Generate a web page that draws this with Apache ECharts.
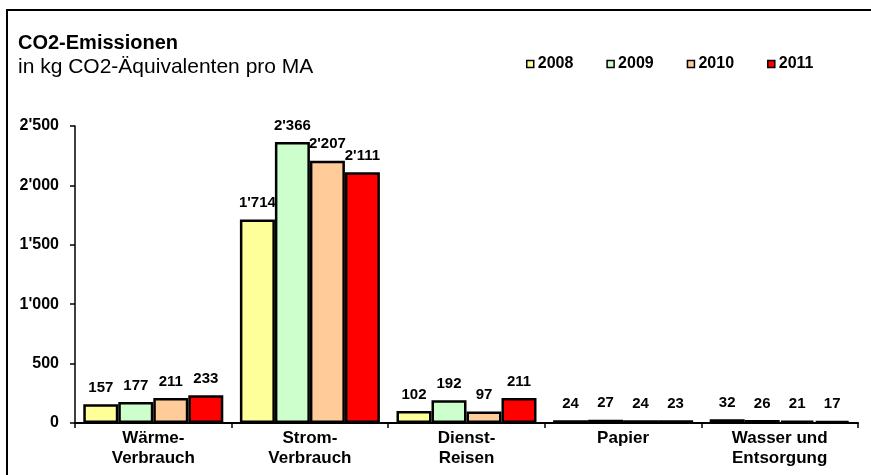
<!DOCTYPE html>
<html>
<head>
<meta charset="utf-8">
<script src="https://cdn.jsdelivr.net/npm/echarts@6/dist/echarts.min.js"></script>
<style>
  html, body { margin: 0; padding: 0; background: #fff; }
  #chart { width: 871px; height: 475px; }
</style>
</head>
<body>
<div id="chart"></div>
<script>
// CO2 emissions per employee, by source and year
const categories = ['Wärme-\nVerbrauch', 'Strom-\nVerbrauch', 'Dienst-\nReisen', 'Papier', 'Wasser und\nEntsorgung'];
const years = ['2008', '2009', '2010', '2011'];
const values2008 = [157, 1714, 102, 24, 32];
const values2009 = [177, 2366, 192, 27, 26];
const values2010 = [211, 2207, 97, 24, 21];
const values2011 = [233, 2111, 211, 23, 17];
const yTicks = [0, 500, 1000, 1500, 2000, 2500];

const seriesValues = [values2008, values2009, values2010, values2011];
const colors = ['#FFFF99', '#CCFFCC', '#FFCC99', '#FF0000'];
const FONT = 'Arial, "Liberation Sans", Helvetica, sans-serif';

// Swiss thousands separator: 2'366
function swiss(n) {
  return String(n).replace(/\B(?=(\d{3})+(?!\d))/g, "'");
}

const chart = echarts.init(document.getElementById('chart'), null, { renderer: 'canvas' });

chart.setOption({
  animation: false,
  backgroundColor: '#ffffff',
  textStyle: { fontFamily: FONT, color: '#000' },
  graphic: [{
    type: 'rect',
    shape: { x: 7, y: 10, width: 900, height: 500 },
    style: { fill: 'none', stroke: '#000', lineWidth: 2 },
    silent: true
  }],
  title: [{
    text: 'CO2-Emissionen',
    left: 13, top: 28,
    textStyle: { fontFamily: FONT, fontSize: 20, fontWeight: 'bold', color: '#000' }
  }, {
    text: 'in kg CO2-Äquivalenten pro MA',
    left: 13, top: 52,
    textStyle: { fontFamily: FONT, fontSize: 21, fontWeight: 'normal', color: '#000' }
  }],
  legend: {
    data: years,
    left: 521, top: 51,
    icon: 'rect',
    itemWidth: 7, itemHeight: 7,
    itemGap: 33,
    itemStyle: { borderColor: '#000', borderWidth: 1.5 },
    textStyle: { fontFamily: FONT, fontSize: 16, fontWeight: 'bold', color: '#000', padding: [0, 0, 0, -1] }
  },
  grid: { left: 75, right: 13, top: 126, bottom: 52, containLabel: false },
  xAxis: {
    type: 'category',
    data: categories,
    axisLine: { show: true, lineStyle: { color: '#000', width: 2 } },
    axisTick: { show: true, inside: false, length: 5, alignWithLabel: false, lineStyle: { color: '#000', width: 1.5 } },
    axisLabel: {
      fontFamily: FONT, fontSize: 17, fontWeight: 'bold', color: '#000',
      lineHeight: 20, margin: 5, interval: 0
    }
  },
  yAxis: {
    type: 'value',
    min: yTicks[0], max: yTicks[yTicks.length - 1], interval: 500,
    axisLine: { show: true, lineStyle: { color: '#000', width: 1.5 } },
    axisTick: { show: true, inside: false, length: 5, lineStyle: { color: '#000', width: 1.5 } },
    splitLine: { show: false },
    axisLabel: {
      fontFamily: FONT, fontSize: 16, fontWeight: 'bold', color: '#000', margin: 16,
      formatter: v => swiss(v)
    }
  },
  series: years.map((y, i) => ({
    name: y,
    type: 'bar',
    data: seriesValues[i],
    barWidth: 35,
    barGap: '0%',
    itemStyle: { color: colors[i], borderColor: '#000', borderWidth: 2.5 },
    label: {
      show: true, position: 'top', distance: 9,
      fontFamily: FONT, fontSize: 15, fontWeight: 'bold', color: '#000',
      formatter: p => swiss(p.value)
    }
  }))
});
</script>
</body>
</html>
